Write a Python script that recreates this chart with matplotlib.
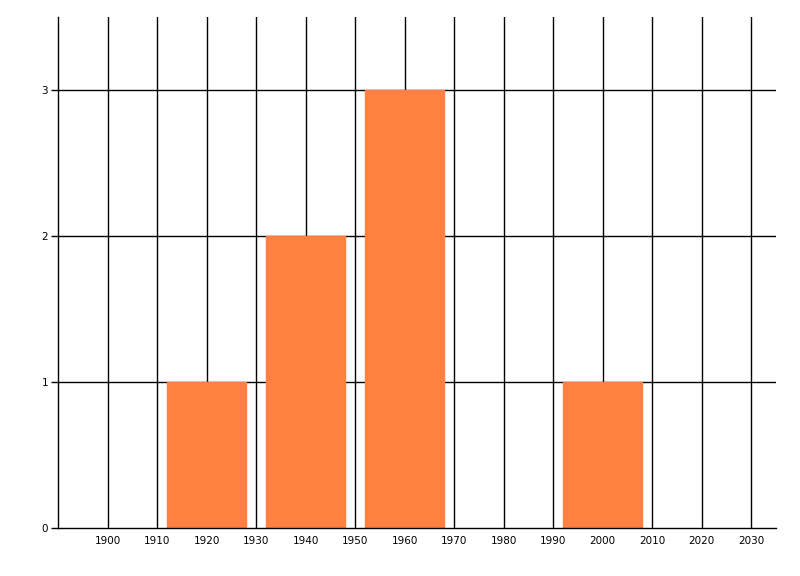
import matplotlib
matplotlib.use("Agg")
import matplotlib.pyplot as plt

years = [1920, 1940, 1960, 2000]
counts = [1, 2, 3, 1]
xticks = list(range(1900, 2031, 10))
yticks = [0, 1, 2, 3]

fig = plt.figure(figsize=(8, 5.76), dpi=100)
ax = fig.add_axes([58 / 800, 48 / 576, (776 - 58) / 800, (528 - 17) / 576])

# edge in the fill colour so the grid line under each bar top is hidden
ax.bar(years, counts, width=16, color='#FF8040', edgecolor='#FF8040',
       linewidth=1, zorder=3)

ax.set_xlim(1890, 2035)
ax.set_ylim(0, 3.5)
ax.set_xticks(xticks)
ax.set_yticks(yticks)
ax.tick_params(axis='x', length=0, labelsize=7.5, pad=6)
ax.tick_params(axis='y', length=5, width=1, labelsize=7.5, pad=2)

# grid lines sit behind the bars
for x in xticks:
    ax.axvline(x, color='black', lw=1, zorder=1)
for y in yticks[1:]:
    ax.axhline(y, color='black', lw=1, zorder=1)

ax.spines['top'].set_visible(False)
ax.spines['right'].set_visible(False)
ax.spines['left'].set_linewidth(1)
ax.spines['bottom'].set_linewidth(1)
ax.spines['bottom'].set_zorder(5)

fig.savefig('out.png', dpi=100)
